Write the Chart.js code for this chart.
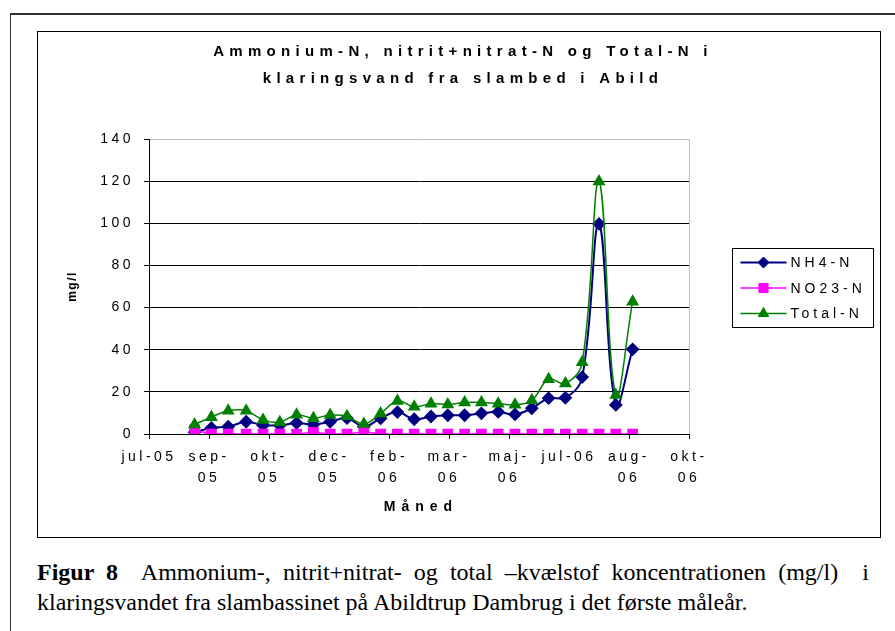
<!DOCTYPE html>
<html>
<head>
<meta charset="utf-8">
<script src="https://cdn.jsdelivr.net/npm/chart.js@4.4.1/dist/chart.umd.min.js"></script>
<style>
  html, body { margin: 0; padding: 0; background: #fff; }
  body { width: 895px; height: 631px; position: relative; overflow: hidden; }
  #page { position: absolute; left: 10px; top: 13px; width: 900px; height: 640px; border-top: 2px solid #333; border-left: 1px solid #333; }
  #frame { position: absolute; left: 37px; top: 31px; width: 842px; height: 505px; border: 1px solid #000; }
  #frame canvas { position: absolute; left: 0; top: 0; }
  #caption { position: absolute; left: 37px; top: 557px; width: 832px; font-family: "Liberation Serif", "Times New Roman", serif; font-size: 24px; line-height: 30px; color: #000; white-space: nowrap; }
  #caption .l1 { text-align: justify; text-align-last: justify; white-space: normal; }
</style>
</head>
<body>
<div id="page"></div>
<div id="frame"><canvas id="nChart" width="842" height="505"></canvas></div>
<div id="caption"><div class="l1"><b>Figur 8</b>&nbsp; Ammonium-, nitrit+nitrat- og total –kvælstof koncentrationen (mg/l)&nbsp; i</div><div>klaringsvandet fra slambassinet på Abildtrup Dambrug i det første måleår.</div></div>
<script>
// x = days after the axis start (mid July 2005), one sample about every two weeks
var sampleDays = [38, 52, 66, 81, 95, 109, 123, 137, 151, 165, 179, 193, 207, 221, 235, 249, 263, 277, 291, 305, 319, 333, 347, 361, 375, 389, 403];
var nh4 = [0.8, 2.9, 3.5, 5.8, 4.2, 4.1, 5.2, 4.5, 5.8, 7.5, 3.5, 7.4, 10.4, 7.0, 8.3, 8.9, 8.9, 9.8, 10.5, 9.3, 12.2, 17.0, 17.2, 27.0, 99.7, 13.8, 40.2];
var no23 = [2.0, 0, 0, 0, 0, 0, 0, 0.8, 0, 0, 1.0, 0, 0, 0, 0, 0, 0, 0, 0, 0, 0, 0, 0, 0, 0, 0, 0];
var totalN = [4.5, 8.0, 11.0, 11.0, 6.7, 5.6, 9.1, 7.5, 9.0, 8.4, 4.8, 9.7, 15.7, 12.9, 14.4, 14.0, 15.0, 15.0, 14.4, 13.9, 16.0, 26.0, 24.0, 34.0, 119.8, 18.5, 62.8];
var tickLabels = [["jul-05"], ["sep-", "05"], ["okt-", "05"], ["dec-", "05"], ["feb-", "06"], ["mar-", "06"], ["maj-", "06"], ["jul-06"], ["aug-", "06"], ["okt-", "06"]];
var tickStep = 50;
var titleLines = ["Ammonium-N, nitrit+nitrat-N og Total-N i", "klaringsvand fra slambed i Abild"];
var xTitle = "Måned";
var yTitle = "mg/l";

function points(values) {
    return values.map(function (v, i) { return { x: sampleDays[i], y: v }; });
}

var fontFamily = "'Liberation Sans', Arial, sans-serif";
Chart.defaults.font.family = fontFamily;
Chart.defaults.color = '#000';

// Excel draws its text widely spaced
var spacing = {
    id: 'spacing',
    beforeLayout: function (chart) { chart.ctx.letterSpacing = '3.5px'; },
    beforeDraw: function (chart) { chart.ctx.letterSpacing = '3.5px'; }
};

var frameParts = {
    id: 'frameParts',
    beforeDatasetsDraw: function (chart) {
        var ctx = chart.ctx, a = chart.chartArea;
        ctx.save();
        ctx.strokeStyle = '#c0c0c0';
        ctx.lineWidth = 1;
        ctx.beginPath();
        ctx.moveTo(Math.round(a.right) + 0.5, a.top);
        ctx.lineTo(Math.round(a.right) + 0.5, a.bottom);
        ctx.stroke();
        ctx.restore();
    },
    afterDraw: function (chart) {
        var ctx = chart.ctx, a = chart.chartArea;
        ctx.save();
        ctx.fillStyle = '#000';
        ctx.textAlign = 'center';
        ctx.textBaseline = 'middle';

        // chart title
        ctx.letterSpacing = '5.3px';
        ctx.font = 'bold 15px ' + fontFamily;
        ctx.fillText(titleLines[0], 425, 20);
        ctx.fillText(titleLines[1], 425, 47);

        // axis titles
        ctx.letterSpacing = '6px';
        ctx.font = 'bold 14px ' + fontFamily;
        ctx.fillText(xTitle, (a.left + a.right) / 2 + 2, 475);
        ctx.save();
        ctx.translate(35, (a.top + a.bottom) / 2);
        ctx.rotate(-Math.PI / 2);
        ctx.letterSpacing = '1.5px';
        ctx.font = 'bold 12px ' + fontFamily;
        ctx.fillText(yTitle, 0, 0);
        ctx.restore();

        // legend box
        var bx = 694.5, by = 216.5, bw = 141, bh = 79;
        ctx.strokeStyle = '#000';
        ctx.lineWidth = 1;
        ctx.strokeRect(bx, by, bw, bh);
        ctx.textAlign = 'left';
        ctx.letterSpacing = '4px';
        ctx.font = '14px ' + fontFamily;
        chart.data.datasets.forEach(function (ds, i) {
            var y = by + 14 + i * 25.5;
            ctx.strokeStyle = ds.borderColor;
            ctx.lineWidth = ds.borderWidth;
            ctx.beginPath();
            ctx.moveTo(bx + 8, y);
            ctx.lineTo(bx + 54, y);
            ctx.stroke();
            ctx.fillStyle = ds.pointBackgroundColor;
            ctx.strokeStyle = ds.pointBorderColor;
            ctx.lineWidth = 1;
            Chart.helpers.drawPoint(ctx, { pointStyle: ds.pointStyle, radius: ds.pointRadius, rotation: 0, borderWidth: 1 }, bx + 31, y);
            ctx.fillStyle = '#000';
            ctx.fillText(ds.label, bx + 58, y + 1);
        });
        ctx.restore();
    }
};

var ctx = document.getElementById('nChart').getContext('2d');
var nChart = new Chart(ctx, {
    type: 'line',
    data: {
        datasets: [{
            label: 'NH4-N',
            data: points(nh4),
            borderColor: '#000080',
            borderWidth: 2,
            pointStyle: 'rectRot',
            pointRadius: 5.5,
            pointBackgroundColor: '#000080',
            pointBorderColor: '#000080',
            tension: 0.4,
            order: 3
        }, {
            label: 'NO23-N',
            data: points(no23),
            borderColor: '#ff00ff',
            borderWidth: 1.5,
            pointStyle: 'rect',
            pointRadius: 6.5,
            pointBackgroundColor: '#ff00ff',
            pointBorderColor: '#ff00ff',
            tension: 0.4,
            order: 2
        }, {
            label: 'Total-N',
            data: points(totalN),
            borderColor: '#008000',
            borderWidth: 1.5,
            pointStyle: 'triangle',
            pointRadius: 6,
            pointBackgroundColor: '#008000',
            pointBorderColor: '#008000',
            tension: 0.4,
            order: 1
        }]
    },
    options: {
        responsive: false,
        animation: false,
        layout: { padding: { left: 20, right: 191, top: 107, bottom: 23 } },
        scales: {
            x: {
                type: 'linear',
                min: 0,
                max: tickStep * (tickLabels.length - 1),
                afterFit: function (scale) { scale.height = 80; },
                ticks: {
                    stepSize: tickStep,
                    autoSkip: false,
                    maxRotation: 0,
                    padding: 8,
                    font: { size: 14, lineHeight: 1.5 },
                    callback: function (value) { return tickLabels[Math.round(value / tickStep)]; }
                },
                grid: { drawOnChartArea: false, tickLength: 5, tickColor: '#000' },
                border: { color: '#000', width: 1 }
            },
            y: {
                min: 0,
                max: 140,
                afterFit: function (scale) { scale.width = 91; },
                ticks: { stepSize: 20, padding: 10, font: { size: 14 } },
                grid: {
                    color: function (c) { return c.tick && c.tick.value === 140 ? '#c0c0c0' : '#000'; },
                    tickLength: 5,
                    tickColor: '#000'
                },
                border: { color: '#000', width: 1 }
            }
        },
        plugins: {
            legend: { display: false },
            tooltip: { enabled: false }
        }
    },
    plugins: [spacing, frameParts]
});
</script>
</body>
</html>
